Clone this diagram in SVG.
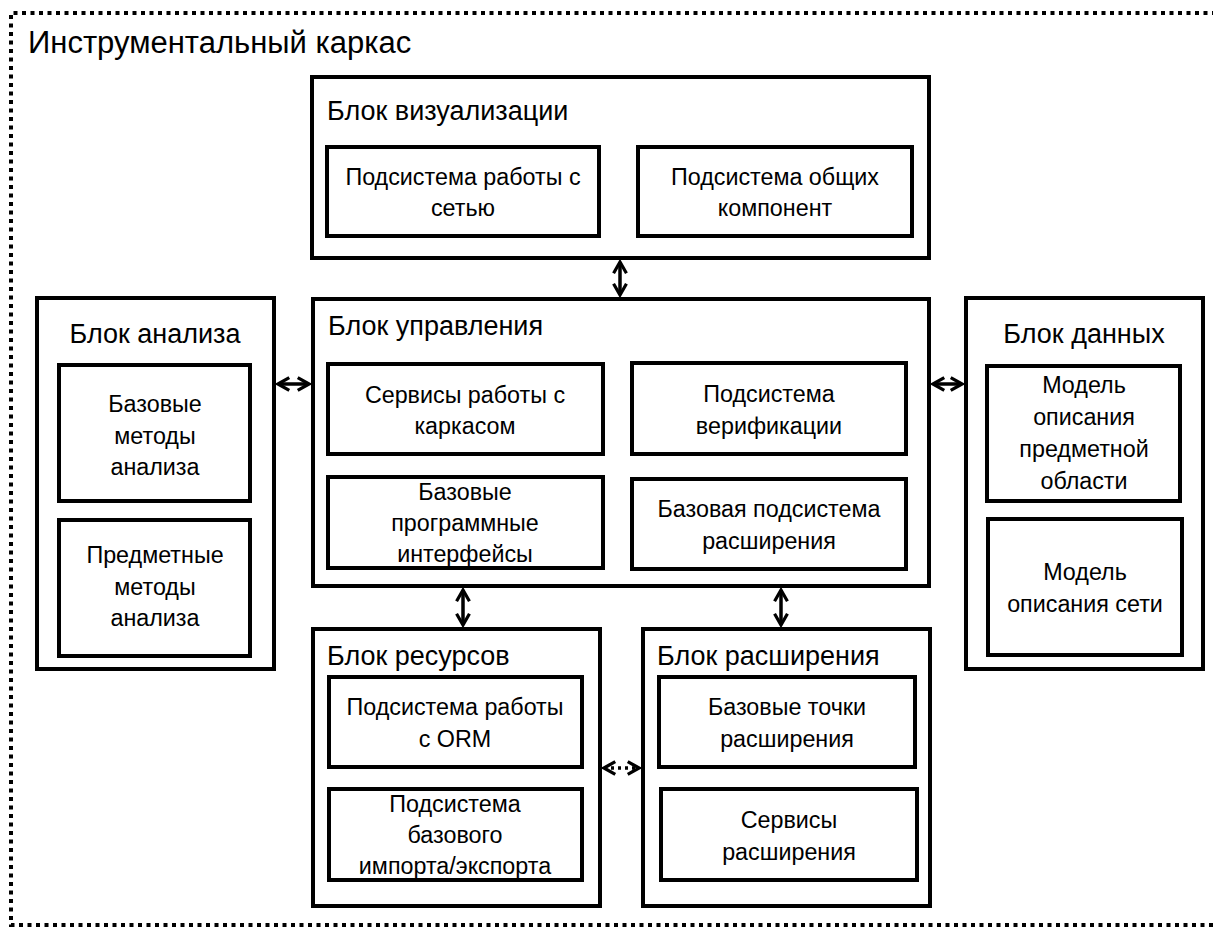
<svg xmlns="http://www.w3.org/2000/svg" width="1213" height="928" viewBox="0 0 1213 928">
<style>
.box{fill:#fff;stroke:#000;stroke-width:4}
.t{font-family:"Liberation Sans",Arial,sans-serif;font-size:23.3px;fill:#000}
.h{font-family:"Liberation Sans",Arial,sans-serif;font-size:27px;fill:#000}
.c{text-anchor:middle}
.con{stroke:#000;stroke-width:3.5;fill:none}
</style>
<defs>
<marker id="ah" viewBox="0 0 10 10" refX="8" refY="5" markerWidth="4.6" markerHeight="4.6" orient="auto-start-reverse" markerUnits="strokeWidth">
<path d="M1,1 L8,5 L1,9" fill="none" stroke="#000" stroke-width="2"/>
</marker>
</defs>
<rect width="1213" height="928" fill="#fff"/>
<g id="frame">
<path d="M1216 13 H11 V925 H1216" fill="none" stroke="#000" stroke-width="4" stroke-dasharray="4 4.5"/>
<text x="28" y="53" class="t" style="font-size:31px">Инструментальный каркас</text>
</g>
<g id="connectors">
<line class="con" x1="620" y1="262" x2="620" y2="295" marker-start="url(#ah)" marker-end="url(#ah)"/>
<line class="con" x1="278" y1="384" x2="309" y2="384" marker-start="url(#ah)" marker-end="url(#ah)"/>
<line class="con" x1="933" y1="384" x2="962" y2="384" marker-start="url(#ah)" marker-end="url(#ah)"/>
<line class="con" x1="463" y1="590" x2="463" y2="625" marker-start="url(#ah)" marker-end="url(#ah)"/>
<line class="con" x1="781" y1="590" x2="781" y2="625" marker-start="url(#ah)" marker-end="url(#ah)"/>
<line class="con" x1="604" y1="768" x2="639" y2="768" stroke-dasharray="3 4" marker-start="url(#ah)" marker-end="url(#ah)"/>
</g>
<g id="vis">
<rect class="box" x="312" y="77" width="617" height="181"/>
<text class="h" x="327" y="120">Блок визуализации</text>
</g>
<g id="vis-net">
<rect class="box" x="327" y="147" width="272" height="89"/>
<text class="t c" x="463" y="185">Подсистема работы с</text>
<text class="t c" x="463" y="216">сетью</text>
</g>
<g id="vis-common">
<rect class="box" x="638" y="147" width="274" height="89"/>
<text class="t c" x="775" y="185">Подсистема общих</text>
<text class="t c" x="775" y="216">компонент</text>
</g>
<g id="ctrl">
<rect class="box" x="313" y="299" width="616" height="287"/>
<text class="h" x="328" y="335">Блок управления</text>
</g>
<g id="ctrl-svc">
<rect class="box" x="328" y="364" width="275" height="90"/>
<text class="t c" x="465" y="403">Сервисы работы с</text>
<text class="t c" x="465" y="434">каркасом</text>
</g>
<g id="ctrl-verif">
<rect class="box" x="632" y="363" width="274" height="91"/>
<text class="t c" x="769" y="402">Подсистема</text>
<text class="t c" x="769" y="434">верификации</text>
</g>
<g id="ctrl-api">
<rect class="box" x="328" y="477" width="275" height="91"/>
<text class="t c" x="465" y="500">Базовые</text>
<text class="t c" x="465" y="531">программные</text>
<text class="t c" x="465" y="562">интерфейсы</text>
</g>
<g id="ctrl-ext">
<rect class="box" x="632" y="479" width="274" height="90"/>
<text class="t c" x="769" y="517">Базовая подсистема</text>
<text class="t c" x="769" y="549">расширения</text>
</g>
<g id="analysis">
<rect class="box" x="37" y="298" width="237" height="371"/>
<text class="h c" x="155" y="343">Блок анализа</text>
</g>
<g id="an-base">
<rect class="box" x="59" y="365" width="191" height="136"/>
<text class="t c" x="155" y="412">Базовые</text>
<text class="t c" x="155" y="444">методы</text>
<text class="t c" x="155" y="475">анализа</text>
</g>
<g id="an-subj">
<rect class="box" x="59" y="520" width="191" height="136"/>
<text class="t c" x="155" y="563">Предметные</text>
<text class="t c" x="155" y="595">методы</text>
<text class="t c" x="155" y="626">анализа</text>
</g>
<g id="data">
<rect class="box" x="966" y="298" width="237" height="371"/>
<text class="h c" x="1084" y="343">Блок данных</text>
</g>
<g id="data-subj">
<rect class="box" x="987" y="366" width="193" height="135"/>
<text class="t c" x="1084" y="393">Модель</text>
<text class="t c" x="1084" y="425">описания</text>
<text class="t c" x="1084" y="457">предметной</text>
<text class="t c" x="1084" y="489">области</text>
</g>
<g id="data-net">
<rect class="box" x="988" y="519" width="194" height="136"/>
<text class="t c" x="1085" y="580">Модель</text>
<text class="t c" x="1085" y="612">описания сети</text>
</g>
<g id="res">
<rect class="box" x="313" y="629" width="287" height="277"/>
<text class="h" x="327" y="665">Блок ресурсов</text>
</g>
<g id="res-orm">
<rect class="box" x="329" y="677" width="253" height="90"/>
<text class="t c" x="455" y="715">Подсистема работы</text>
<text class="t c" x="455" y="747">с ORM</text>
</g>
<g id="res-io">
<rect class="box" x="329" y="789" width="253" height="91"/>
<text class="t c" x="455" y="812">Подсистема</text>
<text class="t c" x="455" y="843">базового</text>
<text class="t c" x="455" y="874">импорта/экспорта</text>
</g>
<g id="ext">
<rect class="box" x="643" y="629" width="287" height="277"/>
<text class="h" x="657" y="665">Блок расширения</text>
</g>
<g id="ext-points">
<rect class="box" x="659" y="677" width="256" height="90"/>
<text class="t c" x="787" y="715">Базовые точки</text>
<text class="t c" x="787" y="747">расширения</text>
</g>
<g id="ext-svc">
<rect class="box" x="661" y="789" width="256" height="91"/>
<text class="t c" x="789" y="828">Сервисы</text>
<text class="t c" x="789" y="860">расширения</text>
</g>
</svg>
